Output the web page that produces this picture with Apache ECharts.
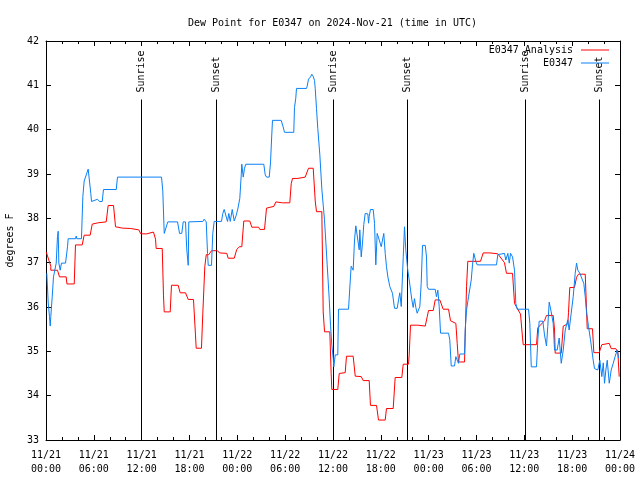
<!DOCTYPE html>
<html><head><meta charset="utf-8">
<script src="https://cdn.jsdelivr.net/npm/echarts@6/dist/echarts.min.js"></script>
<style>html,body{margin:0;padding:0;background:#fff}#c{width:640px;height:480px}</style>
</head><body><div id="c"></div>
<script>
// time in hours since 2024-11-21 00:00 UTC
const xTickLabels = ['11/21\n00:00','11/21\n06:00','11/21\n12:00','11/21\n18:00','11/22\n00:00','11/22\n06:00','11/22\n12:00','11/22\n18:00','11/23\n00:00','11/23\n06:00','11/23\n12:00','11/23\n18:00','11/24\n00:00'];
const sunEventTime = [11.93, 21.32, 35.97, 45.27, 60.05, 69.33];
const sunEventLabel = ['Sunrise','Sunset','Sunrise','Sunset','Sunrise','Sunset'];

const analysisTime = [0.03,0.6,0.6,1.44,1.69,2.53,2.63,3.54,3.7,4.54,4.79,5.54,5.8,6.55,7.55,7.8,8.47,8.72,9.56,10.64,11.64,11.89,12.64,12.82,13.48,13.74,13.82,14.58,14.74,14.83,15.58,15.74,16.58,16.83,17.5,17.84,18.5,18.75,18.84,19.5,19.67,19.92,20.1,20.42,20.76,21.51,21.76,22.68,22.85,23.61,23.93,24.27,24.56,24.81,25.56,25.82,26.66,26.82,27.41,27.66,27.82,28.58,28.83,29.67,30.58,30.76,30.92,31.59,32.51,32.93,33.52,33.77,33.93,34.6,34.77,34.94,35.6,35.77,35.85,36.6,36.78,37.53,37.69,38.53,38.79,39.54,39.79,40.54,40.7,41.46,41.71,42.55,42.71,43.55,43.8,44.63,44.81,45.47,45.56,45.72,46.64,47.57,47.82,47.98,48.57,48.82,49.4,49.82,50.49,50.74,51.41,51.58,51.74,52.5,52.58,52.75,52.91,54.5,54.84,55.67,55.85,56.67,57.51,57.76,58.52,58.77,59.52,59.77,59.86,61.53,61.69,62.53,62.78,63.62,63.79,63.87,64.63,64.88,65.45,65.54,65.7,66.29,66.55,66.8,67.64,67.89,68.55,68.72,69.39,69.72,69.97,70.65,70.9,71.48,71.73,71.9];
const analysisDewpt = [37.24,36.92,36.83,36.83,36.68,36.68,36.52,36.52,37.4,37.4,37.62,37.62,37.87,37.9,37.92,38.29,38.29,37.81,37.78,37.77,37.74,37.65,37.65,37.69,37.69,37.53,37.32,37.32,36.25,35.89,35.89,36.49,36.49,36.32,36.32,36.17,36.17,35.37,35.07,35.07,35.86,36.91,37.18,37.18,37.27,37.27,37.22,37.21,37.1,37.1,37.3,37.36,37.36,37.94,37.94,37.8,37.8,37.75,37.75,38.23,38.27,38.27,38.37,38.35,38.35,38.78,38.9,38.9,38.93,39.13,39.13,38.39,38.15,38.15,35.89,35.44,35.44,34.5,34.14,34.14,34.5,34.52,34.89,34.89,34.44,34.43,34.34,34.34,33.78,33.78,33.45,33.45,33.71,33.71,34.41,34.41,34.71,34.71,34.92,35.59,35.59,35.57,35.78,35.92,35.92,36.16,36.16,35.95,35.95,35.69,35.63,35.18,34.76,34.76,35.32,36.46,37.03,37.03,37.22,37.22,37.2,37.2,37.0,36.76,36.76,36.08,35.84,35.32,35.15,35.15,35.53,35.69,35.81,35.81,35.48,34.96,34.96,35.57,35.62,35.87,36.44,36.44,36.67,36.74,36.74,35.51,35.51,34.97,34.97,35.15,35.18,35.18,35.06,35.06,34.98,34.43];

const obsTime = [0.1,0.28,0.44,0.53,0.6,0.78,0.94,1.28,1.44,1.53,1.61,1.78,1.94,2.45,2.7,2.78,3.7,3.79,3.86,4.45,4.62,4.79,5.12,5.29,5.46,5.62,5.71,6.46,6.71,7.05,7.21,8.81,8.97,14.49,14.65,14.83,15.08,15.28,16.5,16.75,17.03,17.21,17.5,17.66,17.84,17.91,19.67,19.84,20.1,20.26,20.35,20.76,20.92,21.1,22.01,22.18,22.35,22.6,22.77,22.93,23.11,23.36,23.61,23.86,24.06,24.31,24.49,24.56,24.74,24.9,25.06,27.32,27.5,27.66,28.0,28.16,28.32,28.41,29.5,29.75,29.92,31.08,31.17,31.33,31.42,32.68,32.76,32.93,33.18,33.34,33.52,33.68,33.77,33.93,34.09,34.35,34.6,34.77,34.93,35.1,35.27,35.52,35.69,35.85,36.03,36.1,36.28,36.6,36.69,37.95,38.03,38.2,38.28,38.53,38.7,38.86,39.04,39.29,39.36,39.54,39.7,39.86,40.04,40.37,40.46,40.54,40.7,41.04,41.21,41.37,41.54,41.8,42.05,42.37,42.55,42.71,42.88,43.13,43.46,43.72,44.05,44.22,44.38,44.56,44.81,44.97,45.13,45.38,45.56,45.89,46.06,46.22,46.39,46.56,46.81,46.89,47.06,47.23,47.57,47.73,47.82,47.98,48.82,48.98,49.15,49.32,49.49,50.49,50.65,50.83,51.24,51.41,51.58,51.74,51.91,52.5,52.58,52.75,53.0,53.34,53.5,53.66,53.91,54.09,56.51,56.67,57.51,57.68,57.93,58.11,58.27,58.52,58.77,58.93,59.11,60.53,60.69,60.87,61.53,61.69,61.86,62.32,62.53,62.78,62.94,63.12,63.37,63.62,63.79,64.12,64.37,64.63,64.88,65.13,65.45,65.62,65.88,66.13,66.38,66.55,66.71,66.96,67.21,67.46,67.64,67.8,68.05,68.3,68.64,68.8,69.22,69.47,69.72,69.9,70.06,70.23,70.4,70.65,70.9,71.15,71.4,71.65,71.82];
const obsDewpt = [36.76,36.09,35.78,35.57,35.78,36.23,36.68,36.99,37.59,37.71,36.99,36.83,36.99,36.99,37.36,37.54,37.54,37.6,37.54,37.54,38.49,38.84,39.02,39.11,39.11,38.56,38.38,38.43,38.38,38.38,38.65,38.65,38.93,38.93,38.62,37.66,37.66,37.92,37.92,37.66,37.66,37.92,37.92,37.29,36.94,37.92,37.93,37.98,37.92,37.21,36.94,36.94,37.66,37.93,37.93,38.11,38.2,38.2,37.93,38.11,37.93,38.2,37.94,38.07,38.21,38.45,38.98,39.22,38.93,39.13,39.22,39.22,38.98,38.93,38.93,39.25,39.88,40.21,40.21,40.06,39.94,39.94,40.5,40.71,40.93,40.93,40.98,41.14,41.19,41.25,41.2,41.11,40.93,40.48,40.03,39.43,38.66,38.3,37.97,37.47,36.95,36.2,35.59,35.14,34.84,34.65,34.92,34.92,35.95,35.95,36.2,36.7,36.92,36.83,37.51,37.83,37.86,37.29,37.74,37.13,37.44,37.86,38.11,38.1,37.89,38.04,38.2,38.2,37.89,36.95,37.66,37.51,37.36,37.66,37.21,36.91,36.68,36.46,36.31,35.97,35.97,36.16,36.32,36.01,37.13,37.81,37.29,36.83,36.61,36.16,35.99,36.19,35.99,35.86,35.86,36.01,36.53,37.39,37.39,37.13,36.46,36.4,36.4,36.23,36.38,36.01,35.41,35.41,35.26,34.67,34.67,34.88,34.92,34.73,34.94,34.94,35.48,35.93,36.23,36.61,36.95,37.21,37.03,36.95,36.95,37.18,37.21,37.06,37.21,36.99,37.21,37.13,36.83,36.08,35.95,35.95,35.63,34.65,34.65,35.26,35.68,35.68,35.37,35.12,35.56,36.11,35.89,35.63,35.03,35.03,35.3,34.73,35.03,35.48,35.71,35.48,35.86,36.23,36.76,36.99,36.83,36.76,36.76,36.53,36.23,35.89,35.56,35.26,34.8,34.61,34.58,34.8,34.43,34.74,34.28,34.58,34.8,34.28,34.58,34.73,34.89,35.03,34.85];

const yMin = 33, yMax = 42, sunLineTop = 40.68;
const FONT = '"DejaVu Sans Mono", "Liberation Mono", monospace';
const RED = '#ff0000', BLUE = '#0a80f5';

const zip = (a, b) => a.map((t, i) => [t, b[i]]);

const chart = echarts.init(document.getElementById('c'), null, {renderer: 'canvas'});

const baseX = {
  type: 'value', min: 0, max: 72, interval: 6,
  axisLine: {show: true, onZero: false, lineStyle: {color: '#000', width: 1}},
  axisTick: {show: true, inside: true, length: 5, lineStyle: {color: '#000'}},
  minorTick: {show: true, splitNumber: 3, length: 3, lineStyle: {color: '#000'}},
  splitLine: {show: false},
  minorSplitLine: {show: false}
};
const baseY = {
  type: 'value', min: yMin, max: yMax, interval: 1,
  axisLine: {show: true, onZero: false, lineStyle: {color: '#000', width: 1}},
  axisTick: {show: true, inside: true, length: 5, lineStyle: {color: '#000'}},
  splitLine: {show: false}
};

chart.setOption({
  animation: false,
  backgroundColor: '#fff',
  title: {
    text: 'Dew Point for E0347 on 2024-Nov-21 (time in UTC)',
    left: 183, top: 13,
    textStyle: {fontFamily: FONT, fontSize: 10, fontWeight: 'normal', color: '#000'}
  },
  legend: {
    data: [
      {name: 'E0347 Analysis', icon: 'rect', itemStyle: {color: RED}},
      {name: 'E0347', icon: 'rect', itemStyle: {color: BLUE}}
    ],
    orient: 'vertical', align: 'right',
    right: 26, top: 40,
    itemWidth: 28, itemHeight: 1, itemGap: 3,
    textStyle: {fontFamily: FONT, fontSize: 10, color: '#000', padding: [0, 3, 0, 0]}
  },
  grid: {left: 46, right: 20, top: 41, bottom: 40, containLabel: false, outerBoundsMode: 'none'},
  xAxis: [
    Object.assign({}, baseX, {
      position: 'bottom',
      axisLabel: {
        show: true, margin: 8, color: '#000', fontFamily: FONT, fontSize: 10, lineHeight: 14,
        formatter: v => (Math.abs(v % 6) < 1e-6 ? xTickLabels[Math.round(v / 6)] : '')
      }
    }),
    Object.assign({}, baseX, {position: 'top', axisLabel: {show: false}})
  ],
  yAxis: [
    Object.assign({}, baseY, {
      position: 'left',
      name: 'degrees F', nameLocation: 'middle', nameRotate: 90, nameGap: 31,
      nameTextStyle: {fontFamily: FONT, fontSize: 10, color: '#000'},
      axisLabel: {show: true, margin: 7, color: '#000', fontFamily: FONT, fontSize: 10}
    }),
    Object.assign({}, baseY, {position: 'right', axisLabel: {show: false}})
  ],
  series: [
    {
      name: 'E0347 Analysis', type: 'line', xAxisIndex: 0, yAxisIndex: 0,
      data: zip(analysisTime, analysisDewpt),
      symbol: 'none', showSymbol: false,
      lineStyle: {color: RED, width: 1}, itemStyle: {color: RED},
      z: 3
    },
    {
      name: 'E0347', type: 'line', xAxisIndex: 0, yAxisIndex: 0,
      data: zip(obsTime, obsDewpt),
      symbol: 'none', showSymbol: false,
      lineStyle: {color: BLUE, width: 1}, itemStyle: {color: BLUE},
      z: 4
    },
    {
      name: 'sun', type: 'custom', xAxisIndex: 0, yAxisIndex: 0,
      data: sunEventTime.map(t => [t, yMin]),
      z: 2,
      renderItem: function (params, api) {
        const i = params.dataIndex;
        const top = api.coord([api.value(0), sunLineTop]);
        const bot = api.coord([api.value(0), yMin]);
        const x = Math.round(top[0]) + 0.5;
        return {
          type: 'group',
          children: [
            {type: 'line', shape: {x1: x, y1: top[1], x2: x, y2: bot[1]}, style: {stroke: '#000', lineWidth: 1}},
            {type: 'text', x: x, y: top[1] - 7, rotation: Math.PI / 2,
             style: {text: sunEventLabel[i], align: 'left', verticalAlign: 'middle', font: '10px ' + FONT, fill: '#000'}}
          ]
        };
      }
    }
  ]
});
</script>
</body></html>
